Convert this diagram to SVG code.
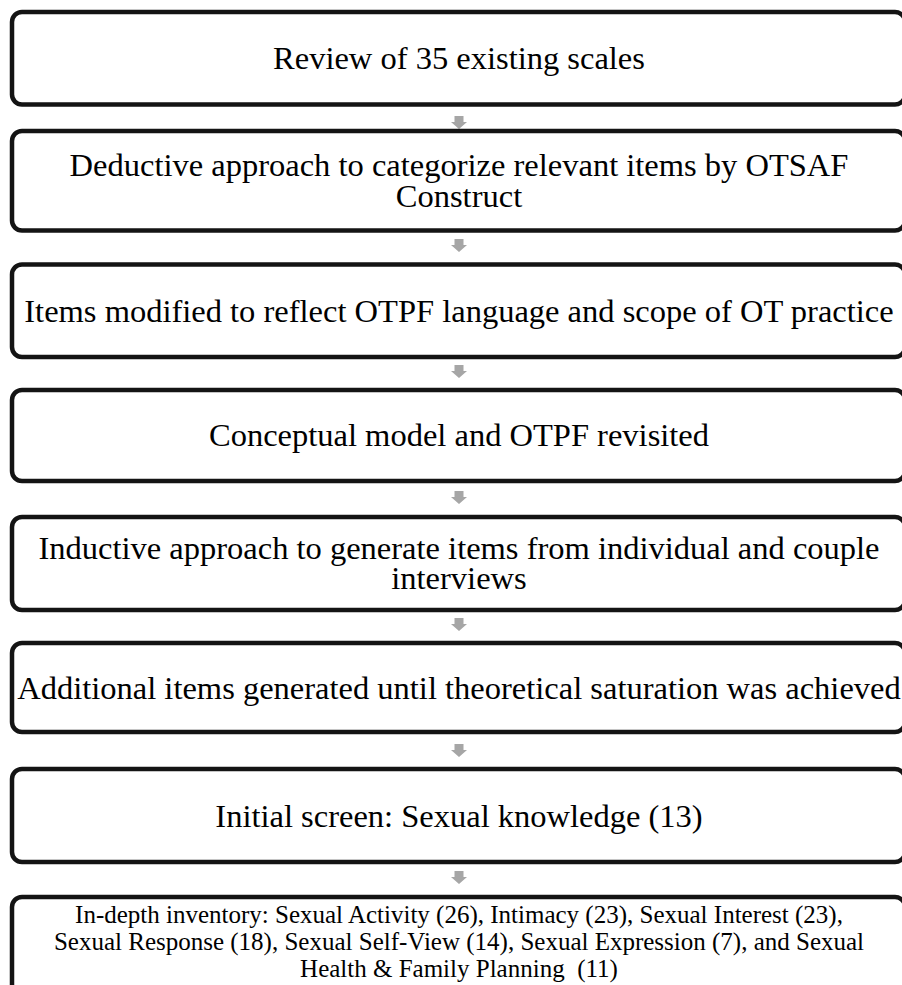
<svg xmlns="http://www.w3.org/2000/svg" width="902" height="985" viewBox="0 0 902 985">
<style>
.box{fill:#fff;stroke:#141414;stroke-width:4.5}
.t{font-family:"Liberation Serif","Times New Roman",serif;font-size:32.5px;fill:#000;text-anchor:middle}
.s{font-family:"Liberation Serif","Times New Roman",serif;font-size:25px;fill:#000;text-anchor:middle}
.arr{fill:#a6a6a6}
</style>
<defs>
<path id="dn" d="M-4.5,0 H4.5 V6 H8 L0,13 L-8,6 H-4.5 Z"/>
</defs>
<rect width="902" height="985" fill="#fff"/>
<g id="connectors">
<use href="#dn" class="arr" x="459" y="116"/>
<use href="#dn" class="arr" x="459" y="239"/>
<use href="#dn" class="arr" x="459" y="365"/>
<use href="#dn" class="arr" x="459" y="491"/>
<use href="#dn" class="arr" x="459" y="618"/>
<use href="#dn" class="arr" x="459" y="744"/>
<use href="#dn" class="arr" x="459" y="871"/>
</g>
<g id="n1"><rect class="box" x="12" y="12" width="893" height="92.5" rx="10"/><text class="t" x="459" y="69">Review of 35 existing scales</text></g>
<g id="n2"><rect class="box" x="12" y="131" width="893" height="99.5" rx="10"/><text class="t" x="459" y="176">Deductive approach to categorize relevant items by OTSAF</text><text class="t" x="459" y="207">Construct</text></g>
<g id="n3"><rect class="box" x="12" y="264.5" width="893" height="92.5" rx="10"/><text class="t" x="459" y="322">Items modified to reflect OTPF language and scope of OT practice</text></g>
<g id="n4"><rect class="box" x="12" y="390" width="893" height="91" rx="10"/><text class="t" x="459" y="446">Conceptual model and OTPF revisited</text></g>
<g id="n5"><rect class="box" x="12" y="517" width="893" height="93" rx="10"/><text class="t" x="459" y="559">Inductive approach to generate items from individual and couple</text><text class="t" x="459" y="589">interviews</text></g>
<g id="n6"><rect class="box" x="12" y="643" width="893" height="89" rx="10"/><text class="t" x="459" y="699">Additional items generated until theoretical saturation was achieved</text></g>
<g id="n7"><rect class="box" x="12" y="769" width="893" height="93" rx="10"/><text class="t" x="459" y="827">Initial screen: Sexual knowledge (13)</text></g>
<g id="n8"><rect class="box" x="12" y="897" width="893" height="120" rx="10"/><text class="s" x="459" y="923">In-depth inventory: Sexual Activity (26), Intimacy (23), Sexual Interest (23),</text><text class="s" x="459" y="950">Sexual Response (18), Sexual Self-View (14), Sexual Expression (7), and Sexual</text><text class="s" x="459" y="977">Health &amp; Family Planning&#160; (11)</text></g>
</svg>
